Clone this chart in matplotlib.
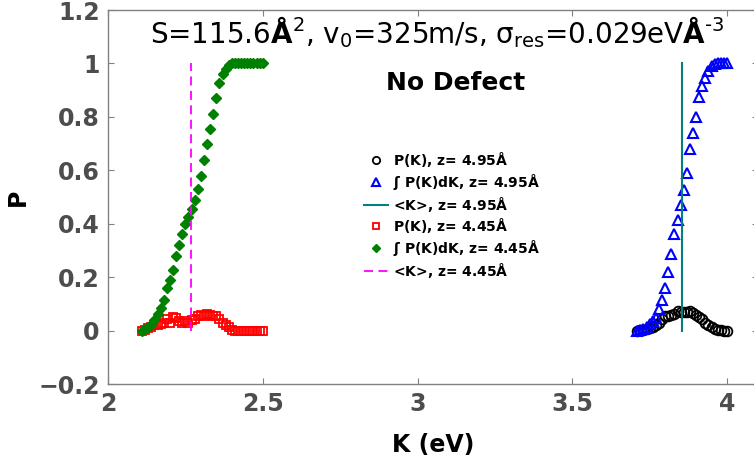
import numpy as np
import matplotlib
matplotlib.use('Agg')
import matplotlib.pyplot as plt

plt.rcParams['font.family'] = ['DejaVu Sans']
plt.rcParams['mathtext.fontset'] = 'dejavusans'

# Datos z = 4.45 A
k_445 = [2.11, 2.12, 2.13, 2.14, 2.15, 2.16, 2.17, 2.18, 2.19, 2.20,
         2.21, 2.22, 2.23, 2.24, 2.25, 2.26, 2.27, 2.28, 2.29, 2.30,
         2.31, 2.32, 2.33, 2.34, 2.35, 2.36, 2.37, 2.38, 2.39, 2.40,
         2.41, 2.42, 2.43, 2.44, 2.45, 2.46, 2.47, 2.48, 2.49, 2.50]
p_445 = [0.0, 0.004, 0.008, 0.015, 0.02, 0.022, 0.025, 0.028, 0.045, 0.03,
         0.05, 0.048, 0.035, 0.03, 0.035, 0.03, 0.04, 0.045, 0.055, 0.06,
         0.055, 0.062, 0.058, 0.055, 0.056, 0.045, 0.03, 0.02, 0.012, 0.004,
         0.0, 0.0, 0.0, 0.0, 0.0, 0.0, 0.0, 0.0, 0.0, 0.0]
cum_445 = [0.0, 0.005, 0.012, 0.022, 0.04, 0.062, 0.085, 0.115, 0.16, 0.19,
           0.225, 0.28, 0.32, 0.36, 0.40, 0.425, 0.455, 0.49, 0.53, 0.58,
           0.64, 0.70, 0.755, 0.81, 0.87, 0.925, 0.96, 0.98, 0.993, 1.0,
           1.0, 1.0, 1.0, 1.0, 1.0, 1.0, 1.0, 1.0, 1.0, 1.0]
kmean_445 = 2.268

# Datos z = 4.95 A
k_495 = [3.71, 3.72, 3.73, 3.74, 3.75, 3.76, 3.77, 3.78, 3.79, 3.80,
         3.81, 3.82, 3.83, 3.84, 3.85, 3.86, 3.87, 3.88, 3.89, 3.90,
         3.91, 3.92, 3.93, 3.94, 3.95, 3.96, 3.97, 3.98, 3.99, 4.00]
p_495 = [0.0, 0.002, 0.003, 0.006, 0.01, 0.012, 0.02, 0.03, 0.045, 0.055,
         0.055, 0.058, 0.062, 0.075, 0.07, 0.068, 0.07, 0.072, 0.066, 0.06,
         0.052, 0.042, 0.03, 0.02, 0.012, 0.007, 0.003, 0.001, 0.0, 0.0]
cum_495 = [0.0, 0.003, 0.006, 0.013, 0.023, 0.035, 0.048, 0.08, 0.115, 0.16,
           0.22, 0.285, 0.36, 0.415, 0.47, 0.525, 0.59, 0.68, 0.74, 0.80,
           0.875, 0.915, 0.945, 0.972, 0.99, 0.998, 1.0, 1.0, 1.0, 1.0]
kmean_495 = 3.853

yticks = [-0.2, 0, 0.2, 0.4, 0.6, 0.8, 1, 1.2]
ytick_labels = ['\u22120.2', '0', '0.2', '0.4', '0.6', '0.8', '1', '1.2']
xticks = [2, 2.5, 3, 3.5, 4]
xtick_labels = ['2', '2.5', '3', '3.5', '4']

fig = plt.figure(figsize=(7.54, 4.65), dpi=100)
ax = fig.add_axes([108 / 754, 81 / 465, 650 / 754, 374 / 465])

A = '$\\mathbf{\u00c5}$'
ax.plot(k_495, p_495, 'o', mfc='none', mec='black', ms=7, mew=1.3,
        label='P(K), z= 4.95' + A)
ax.plot(k_495, cum_495, '^', mfc='none', mec='blue', ms=7, mew=1.5,
        label='\u0283 P(K)dK, z= 4.95' + A)
ax.plot([kmean_495, kmean_495], [0, 1], '-', color='#008080', lw=1.5,
        label='<K>, z= 4.95' + A)
ax.plot(k_445, p_445, 's', mfc='none', mec='red', ms=6, mew=1.3,
        label='P(K), z= 4.45' + A)
ax.plot(k_445, cum_445, 'D', color='green', ms=5.5,
        label='\u0283 P(K)dK, z= 4.45' + A)
ax.plot([kmean_445, kmean_445], [0, 1], '--', color='magenta', lw=1.3,
        dashes=(5, 3), label='<K>, z= 4.45' + A)

ax.set_xlim(2, 4.1)
ax.set_ylim(-0.2, 1.2)
ax.set_xticks(xticks)
ax.set_xticklabels(xtick_labels)
ax.set_yticks(yticks)
ax.set_yticklabels(ytick_labels)

gris = '#4d4d4d'
for s in ax.spines.values():
    s.set_color('#808080')
    s.set_linewidth(1.0)
ax.tick_params(direction='in', length=4, width=0.8, color='#808080',
               top=True, right=True, labelsize=17, labelcolor=gris, pad=6)
for lab in ax.get_xticklabels() + ax.get_yticklabels():
    lab.set_fontweight('bold')

ax.set_xlabel('K (eV)', fontsize=17, fontweight='bold', color='black', labelpad=12)
ax.set_ylabel('P', fontsize=17, fontweight='bold', color='black', labelpad=6)

titulo = ('S=115.6$\\mathbf{\u00c5}^2$, v$_0$=325m/s, '
          '\u03c3$_{\\mathrm{res}}$=0.029eV$\\mathbf{\u00c5}^{\u2010\\mathrm{3}}$')
fig.text(437 / 754, 1 - 32 / 465, titulo, fontsize=20, ha='center', va='center',
         color='black')
fig.text(456 / 754, 1 - 83 / 465, 'No Defect', fontsize=18, fontweight='bold',
         ha='center', va='center', color='black')

leg = ax.legend(loc='upper left', bbox_to_anchor=((357 - 108) / 650, (384 - 143) / 374),
                frameon=False, fontsize=10, handlelength=1.7, handletextpad=0.4,
                labelspacing=0.2, borderpad=0, markerscale=0.75)
for t in leg.get_texts():
    t.set_fontweight('bold')

fig.savefig('out.png', dpi=100)
